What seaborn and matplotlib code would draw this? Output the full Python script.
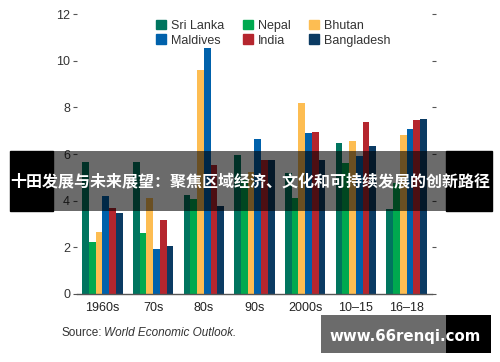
import pandas as pd
import matplotlib
matplotlib.use("Agg")
import matplotlib.pyplot as plt
from matplotlib.patches import Rectangle
import seaborn as sns

# decades / periods on the x axis
periods = ["1960s", "70s", "80s", "90s", "2000s", "10–15", "16–18"]
countries = ["Sri Lanka", "Maldives", "Nepal", "India", "Bhutan", "Bangladesh"]

# values
sri_lanka = [5.67, 5.64, 4.24, 5.94, 5.20, 6.46, 3.63]
nepal = [2.21, 2.60, 4.09, 4.90, 4.13, 5.60, 4.74]
bhutan = [2.66, 4.10, 9.59, 5.24, 8.17, 6.54, 6.81]
maldives = [4.19, 1.91, 10.54, 6.64, 6.90, 5.90, 7.07]
india = [3.70, 3.19, 5.54, 5.76, 6.94, 7.39, 7.47]
bangladesh = [3.49, 2.07, 3.79, 5.76, 5.76, 6.33, 7.51]

colors = {
    "Sri Lanka": "#00755f",
    "Nepal": "#00a94f",
    "Bhutan": "#fdbd52",
    "Maldives": "#0061ab",
    "India": "#b5262e",
    "Bangladesh": "#0b3b63",
}

series = {"Sri Lanka": sri_lanka, "Nepal": nepal, "Bhutan": bhutan,
          "Maldives": maldives, "India": india, "Bangladesh": bangladesh}
bar_order = ["Sri Lanka", "Nepal", "Bhutan", "Maldives", "India", "Bangladesh"]

rows = []
for c in bar_order:
    for p, v in zip(periods, series[c]):
        rows.append({"period": p, "country": c, "value": v})
df = pd.DataFrame(rows)

sns.set_style("white")
plt.rcParams["font.family"] = ["Liberation Sans Narrow", "Liberation Sans", "DejaVu Sans"]

fig = plt.figure(figsize=(5, 3.62), dpi=100)
ax = fig.add_axes([0.154, 0.188, 0.71, 0.773])

sns.barplot(data=df, x="period", y="value", hue="country", order=periods,
            hue_order=bar_order, palette=colors, width=0.8, saturation=1,
            edgecolor="none", linewidth=0, ax=ax)

ax.set_ylim(0, 12)
ax.set_xlim(-0.5, 6.5)
ax.set_yticks(range(0, 13, 2))
ax.set_xlabel("")
ax.set_ylabel("")
for s in ["top", "left", "right"]:
    ax.spines[s].set_visible(False)
ax.spines["bottom"].set_color("#555555")
ax.spines["bottom"].set_linewidth(1.0)

ax.tick_params(axis="y", which="major", left=True, right=True, length=3,
               width=0.8, color="#555555", labelsize=9, labelcolor="#333333", pad=2)
ax.tick_params(axis="x", which="major", length=0, labelsize=9,
               labelcolor="#222222", pad=6)
ax.set_xticks([i + 0.5 for i in range(-1, 7)], minor=True)
ax.tick_params(axis="x", which="minor", direction="in", length=4,
               width=0.8, color="#555555")

# legend: three columns, two rows
handles = [Rectangle((0, 0), 1, 1, color=colors[c]) for c in countries]
ax.legend(handles, countries, ncol=3, loc="upper left",
          bbox_to_anchor=(0.19, 1.02), frameon=False, fontsize=9,
          handlelength=0.8, handleheight=0.8, handletextpad=0.4,
          columnspacing=1.5, labelspacing=0.2, labelcolor="#333333")

fig.text(0.122, 0.08, "Source:", fontsize=8.5, color="#333333", va="center")
fig.text(0.207, 0.08, "World Economic Outlook.", fontsize=8.5, color="#333333",
         va="center", style="italic")

# dark overlay banner with title
by0, bh = 1 - 211 / 362, 60 / 362
fig.patches.append(Rectangle((10 / 500, by0), 43 / 500, bh, transform=fig.transFigure,
                             color="black", zorder=5))
fig.patches.append(Rectangle((53 / 500, by0), 393 / 500, bh, transform=fig.transFigure,
                             color="black", alpha=0.58, zorder=5, linewidth=0))
fig.patches.append(Rectangle((446 / 500, by0), 46 / 500, bh, transform=fig.transFigure,
                             color="black", zorder=5))
fig.text(0.5, by0 + bh / 2, "十田发展与未来展望：聚焦区域经济、文化和可持续发展的创新路径",
         family=["Noto Sans CJK SC", "DejaVu Sans"], fontweight="bold",
         fontsize=11.5, color="white", ha="center", va="center", zorder=6)

# watermark box bottom right
wy0, wh = 1 - 353 / 362, 38 / 362
fig.patches.append(Rectangle((321 / 500, wy0), 125 / 500, wh, transform=fig.transFigure,
                             color="#6b6b6b", zorder=5, linewidth=0))
fig.patches.append(Rectangle((446 / 500, wy0), 45 / 500, wh, transform=fig.transFigure,
                             color="black", zorder=5, linewidth=0))
fig.text(405 / 500, 1 - 336 / 362, "www.66renqi.com", family="DejaVu Sans",
         fontweight="bold", fontsize=10.8, color="white", ha="center",
         va="center", zorder=6)

fig.savefig("out.png", dpi=100)
